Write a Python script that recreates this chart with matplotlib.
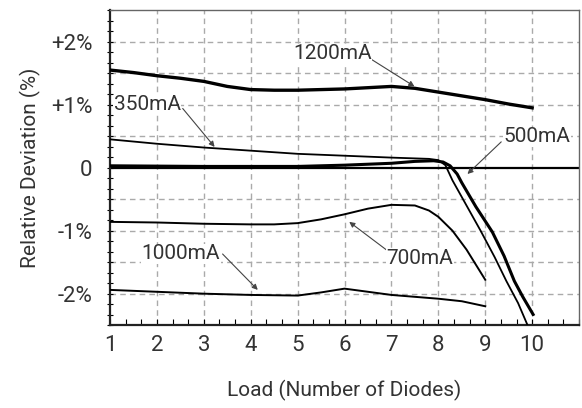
import matplotlib
matplotlib.use("Agg")
import matplotlib.pyplot as plt
from matplotlib.ticker import MultipleLocator
import numpy as np

plt.rcParams['font.family'] = ['Roboto', 'DejaVu Sans']

# values
x_1200 = [1, 1.5, 2, 2.5, 3, 3.5, 4, 4.5, 5, 5.5, 6, 6.5, 7, 7.5, 8, 8.5, 9, 9.5, 10]
y_1200 = [1.55, 1.51, 1.46, 1.42, 1.37, 1.29, 1.24, 1.23, 1.23, 1.24, 1.25, 1.27, 1.29, 1.26, 1.20, 1.14, 1.08, 1.01, 0.95]

x_350 = [1, 2, 3, 4, 5, 6, 7, 7.8, 8.0, 8.15, 8.3, 8.6, 8.9, 9.2, 9.45, 9.7, 9.93]
y_350 = [0.45, 0.38, 0.32, 0.27, 0.22, 0.19, 0.16, 0.14, 0.12, 0.04, -0.20, -0.60, -1.00, -1.42, -1.80, -2.15, -2.55]

x_500 = [1, 3, 5, 6, 7, 7.5, 7.9, 8.1, 8.25, 8.4, 8.5, 8.8, 9.15, 9.4, 9.62, 9.8, 10.02]
y_500 = [0.03, 0.02, 0.02, 0.04, 0.07, 0.10, 0.11, 0.09, 0.03, -0.10, -0.24, -0.62, -1.02, -1.40, -1.80, -2.05, -2.33]

x_700 = [1, 2, 3, 4, 4.5, 5, 5.5, 6, 6.5, 7, 7.5, 7.8, 8, 8.3, 8.6, 9]
y_700 = [-0.86, -0.87, -0.89, -0.90, -0.90, -0.88, -0.82, -0.74, -0.65, -0.59, -0.60, -0.68, -0.78, -1.00, -1.30, -1.78]

x_1000 = [1, 2, 3, 4, 5, 5.5, 6, 6.5, 7, 7.5, 8, 8.5, 9]
y_1000 = [-1.94, -1.97, -2.00, -2.02, -2.03, -1.98, -1.92, -1.97, -2.02, -2.05, -2.08, -2.12, -2.20]

# label, text position, arrow tail, arrow head
labels = [
    ("1200mA", (5.74, 1.81), (6.55, 1.73), (7.49, 1.29)),
    ("350mA", (1.79, 1.00), (2.55, 0.94), (3.23, 0.33)),
    ("500mA", (10.1, 0.49), (9.34, 0.41), (8.62, -0.10)),
    ("700mA", (7.60, -1.44), (6.92, -1.32), (6.10, -0.86)),
    ("1000mA", (2.51, -1.37), (3.40, -1.37), (4.15, -1.94)),
]

yticks = [2, 1, 0, -1, -2]
yticklabels = ["+2%", "+1%", "0", "-1%", "-2%"]

txt = "#333333"

fig = plt.figure(figsize=(5.82, 4.08), dpi=100)
ax = fig.add_axes([0.189, 0.203, 0.806, 0.772])

ax.set_xlim(1, 11)
ax.set_ylim(-2.5, 2.5)

# grid
for gx in range(2, 11):
    ax.axvline(gx, color="#aaaaaa", lw=1, ls=(0, (4, 3)), zorder=1)
for gy in np.arange(-2, 2.01, 0.5):
    if gy != 0:
        ax.axhline(gy, color="#aaaaaa", lw=1, ls=(0, (4, 3)), zorder=1)
ax.axhline(0, color="black", lw=1.6, zorder=2)

ax.plot(x_1200, y_1200, color="black", lw=2.4, zorder=3)
ax.plot(x_350, y_350, color="black", lw=1.3, zorder=3)
ax.plot(x_500, y_500, color="black", lw=2.2, zorder=3)
ax.plot(x_700, y_700, color="black", lw=1.4, zorder=3)
ax.plot(x_1000, y_1000, color="black", lw=1.4, zorder=3)

for name, tpos, tail, head in labels:
    ax.text(tpos[0], tpos[1], name, fontsize=15, color=txt, ha="center", va="center",
            zorder=5, bbox=dict(facecolor="white", edgecolor="none", pad=0.5))
    ax.annotate("", xy=head, xytext=tail,
                arrowprops=dict(arrowstyle="-|>", color="#444444", lw=0.8,
                                mutation_scale=8, shrinkA=0, shrinkB=0), zorder=4)

ax.set_xticks(range(1, 11))
ax.set_xticklabels([str(i) for i in range(1, 11)])
ax.xaxis.set_minor_locator(MultipleLocator(1 / 3))
ax.set_yticks(yticks)
ax.set_yticklabels(yticklabels)
ax.yaxis.set_minor_locator(MultipleLocator(1 / 6))

ax.tick_params(axis="x", which="both", direction="in", length=4, width=0.8, labelsize=16,
               labelcolor=txt, pad=7)
ax.tick_params(axis="y", which="both", direction="inout", length=5, width=0.8, labelsize=16,
               labelcolor=txt, pad=10)

for s in ["left", "bottom"]:
    ax.spines[s].set_linewidth(1.6)
    ax.spines[s].set_color("#222222")
for s in ["top", "right"]:
    ax.spines[s].set_linewidth(1.0)
    ax.spines[s].set_color("#666666")

ax.set_xlabel("Load (Number of Diodes)", fontsize=15, color=txt, labelpad=17)
ax.set_ylabel("Relative Deviation (%)", fontsize=15, color=txt, labelpad=7)

fig.savefig("out.png", dpi=100)
